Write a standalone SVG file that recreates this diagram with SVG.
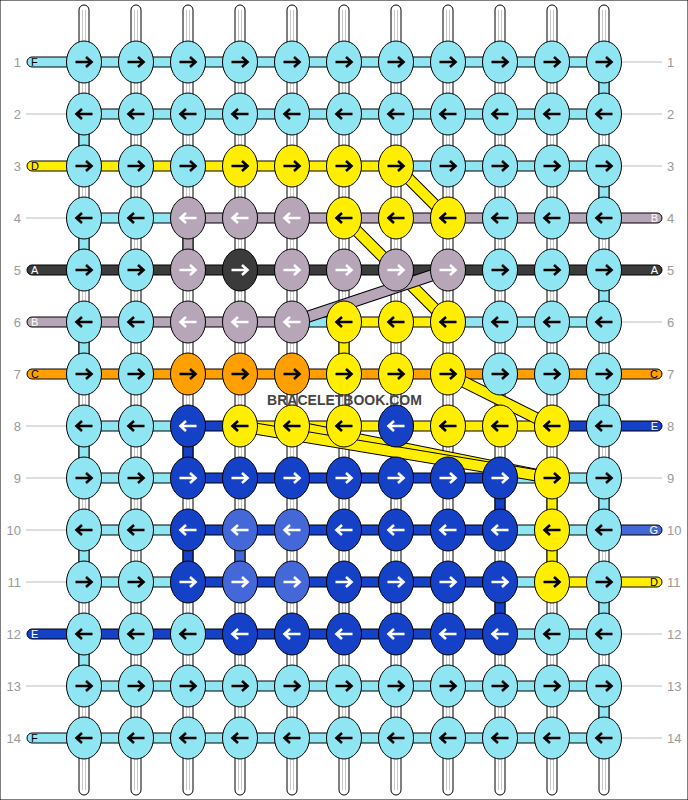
<svg xmlns="http://www.w3.org/2000/svg" xmlns:xlink="http://www.w3.org/1999/xlink" width="688" height="800" viewBox="0 0 688 800">
<style>
.L{fill:#8fe6f2}.Y{fill:#ffee00}.P{fill:#b6a6b8}.K{fill:#3b3b3b}.O{fill:#ffa000}.B{fill:#1541c6}.M{fill:#4468d8}
rect,ellipse{stroke:#000;stroke-width:1}
.ws{fill:#fff}
.gl{stroke:#c8c8c8;stroke-width:1}
.lab{stroke:#bdbdbd;stroke-width:1}
.num{font-family:"Liberation Sans",Arial,sans-serif;font-size:13px;fill:#9a9a9a}
.lt{font-family:"Liberation Sans",Arial,sans-serif;font-size:11px}
.w{stroke:#fff}.b{stroke:#000}
.bo{stroke:#000;stroke-width:12}
.dy{stroke:#ffee00;stroke-width:10}.dp{stroke:#b6a6b8;stroke-width:10}
</style>
<defs>
<path id="ar" d="M-8.5 0H7M2-5L7.5 0L2 5" fill="none" stroke-width="2.6"/>
<path id="al" d="M8.5 0H-7M-2-5L-7.5 0L-2 5" fill="none" stroke-width="2.6"/>
</defs>
<rect width="688" height="800" fill="#fff" stroke="none"/>
<g id="warp">
<rect class="ws" x="79" y="5" width="10" height="790" rx="5"/><rect class="ws" x="131" y="5" width="10" height="790" rx="5"/><rect class="ws" x="183" y="5" width="10" height="790" rx="5"/><rect class="ws" x="235" y="5" width="10" height="790" rx="5"/><rect class="ws" x="287" y="5" width="10" height="790" rx="5"/><rect class="ws" x="339" y="5" width="10" height="790" rx="5"/><rect class="ws" x="391" y="5" width="10" height="790" rx="5"/><rect class="ws" x="443" y="5" width="10" height="790" rx="5"/><rect class="ws" x="495" y="5" width="10" height="790" rx="5"/><rect class="ws" x="547" y="5" width="10" height="790" rx="5"/><rect class="ws" x="599" y="5" width="10" height="790" rx="5"/>
<path class="gl" d="M82.5 10V790M85.5 10V790M134.5 10V790M137.5 10V790M186.5 10V790M189.5 10V790M238.5 10V790M241.5 10V790M290.5 10V790M293.5 10V790M342.5 10V790M345.5 10V790M394.5 10V790M397.5 10V790M446.5 10V790M449.5 10V790M498.5 10V790M501.5 10V790M550.5 10V790M553.5 10V790M602.5 10V790M605.5 10V790"/>
</g>
<g id="connectors">
<path class="lab" d="M26 114H67M26 218H67M26 426H67M26 478H67M26 530H67M26 582H67M26 686H67"/>
<path class="lab" d="M621 62H662M621 114H662M621 166H662M621 322H662M621 478H662M621 634H662M621 686H662M621 738H662"/>
<rect class="L" x="27" y="57" width="70" height="10" rx="5"/>
<rect class="Y" x="27" y="161" width="70" height="10" rx="5"/>
<rect class="K" x="27" y="265" width="70" height="10" rx="5"/>
<rect class="P" x="27" y="317" width="70" height="10" rx="5"/>
<rect class="O" x="27" y="369" width="70" height="10" rx="5"/>
<rect class="B" x="27" y="629" width="70" height="10" rx="5"/>
<rect class="L" x="27" y="733" width="70" height="10" rx="5"/>
<rect class="P" x="594" y="213" width="68" height="10" rx="5"/>
<rect class="K" x="594" y="265" width="68" height="10" rx="5"/>
<rect class="O" x="594" y="369" width="68" height="10" rx="5"/>
<rect class="B" x="594" y="421" width="68" height="10" rx="5"/>
<rect class="M" x="594" y="525" width="68" height="10" rx="5"/>
<rect class="Y" x="594" y="577" width="68" height="10" rx="5"/>
<rect class="L" x="84" y="57" width="520" height="10"/>
<rect class="L" x="84" y="109" width="520" height="10"/>
<rect class="Y" x="84" y="161" width="312" height="10"/><rect class="L" x="396" y="161" width="208" height="10"/>
<rect class="L" x="84" y="213" width="104" height="10"/><rect class="P" x="188" y="213" width="416" height="10"/>
<rect class="K" x="84" y="265" width="520" height="10"/>
<rect class="P" x="84" y="317" width="208" height="10"/><rect class="L" x="292" y="317" width="52" height="10"/><rect class="Y" x="344" y="317" width="104" height="10"/><rect class="L" x="448" y="317" width="156" height="10"/>
<rect class="O" x="84" y="369" width="520" height="10"/>
<rect class="L" x="84" y="421" width="104" height="10"/><rect class="B" x="188" y="421" width="52" height="10"/><rect class="Y" x="240" y="421" width="312" height="10"/><rect class="B" x="552" y="421" width="52" height="10"/>
<rect class="L" x="84" y="473" width="104" height="10"/><rect class="B" x="188" y="473" width="312" height="10"/><rect class="L" x="500" y="473" width="104" height="10"/>
<rect class="L" x="84" y="525" width="104" height="10"/><rect class="B" x="188" y="525" width="312" height="10"/><rect class="L" x="500" y="525" width="104" height="10"/>
<rect class="L" x="84" y="577" width="104" height="10"/><rect class="B" x="188" y="577" width="312" height="10"/><rect class="L" x="500" y="577" width="52" height="10"/><rect class="Y" x="552" y="577" width="52" height="10"/>
<rect class="B" x="84" y="629" width="416" height="10"/><rect class="L" x="500" y="629" width="104" height="10"/>
<rect class="L" x="84" y="681" width="520" height="10"/>
<rect class="L" x="84" y="733" width="520" height="10"/>
<rect class="L" x="599" y="62" width="10" height="52"/>
<rect class="L" x="79" y="114" width="10" height="52"/>
<rect class="L" x="599" y="166" width="10" height="52"/>
<rect class="L" x="79" y="218" width="10" height="52"/><rect class="P" x="183" y="218" width="10" height="52"/>
<rect class="L" x="599" y="270" width="10" height="52"/>
<rect class="L" x="79" y="322" width="10" height="52"/><rect class="Y" x="339" y="322" width="10" height="52"/>
<rect class="L" x="599" y="374" width="10" height="52"/>
<rect class="L" x="79" y="426" width="10" height="52"/><rect class="B" x="183" y="426" width="10" height="52"/>
<rect class="B" x="495" y="478" width="10" height="52"/><rect class="Y" x="547" y="478" width="10" height="52"/><rect class="L" x="599" y="478" width="10" height="52"/>
<rect class="L" x="79" y="530" width="10" height="52"/><rect class="B" x="183" y="530" width="10" height="52"/><rect class="M" x="235" y="530" width="10" height="52"/><rect class="Y" x="547" y="530" width="10" height="52"/>
<rect class="B" x="495" y="582" width="10" height="52"/><rect class="L" x="599" y="582" width="10" height="52"/>
<rect class="L" x="79" y="634" width="10" height="52"/>
<rect class="L" x="599" y="686" width="10" height="52"/>
<path class="bo" d="M396 166L448 218M344 218L396 270M396 270L448 322"/>
<path class="dy" d="M396 166L448 218M344 218L396 270M396 270L448 322"/>
<path class="bo" d="M292 322L448 270"/><path class="dp" d="M292 322L448 270"/>
<path class="bo" d="M448 374L552 426"/><path class="dy" d="M448 374L552 426"/>
<path class="bo" d="M292 426L552 478"/><path class="dy" d="M292 426L552 478"/>
<path class="bo" d="M240 426L552 478"/><path class="dy" d="M240 426L552 478"/>
</g>
<g id="labels">
<text class="lt" x="31" y="66" fill="#000">F</text>
<text class="lt" x="31" y="170" fill="#000">D</text>
<text class="lt" x="31" y="274" fill="#fff">A</text>
<text class="lt" x="31" y="326" fill="#fff">B</text>
<text class="lt" x="31" y="378" fill="#000">C</text>
<text class="lt" x="31" y="638" fill="#fff">E</text>
<text class="lt" x="31" y="742" fill="#000">F</text>
<text class="lt" x="658" y="222" fill="#fff" text-anchor="end">B</text>
<text class="lt" x="658" y="274" fill="#fff" text-anchor="end">A</text>
<text class="lt" x="658" y="378" fill="#000" text-anchor="end">C</text>
<text class="lt" x="658" y="430" fill="#fff" text-anchor="end">E</text>
<text class="lt" x="658" y="534" fill="#fff" text-anchor="end">G</text>
<text class="lt" x="658" y="586" fill="#000" text-anchor="end">D</text>
<g class="num" text-anchor="end">
<text x="21" y="67">1</text><text x="21" y="119">2</text><text x="21" y="171">3</text><text x="21" y="223">4</text><text x="21" y="275">5</text><text x="21" y="327">6</text><text x="21" y="379">7</text><text x="21" y="431">8</text><text x="21" y="483">9</text><text x="21" y="535">10</text><text x="21" y="587">11</text><text x="21" y="639">12</text><text x="21" y="691">13</text><text x="21" y="743">14</text>
</g>
<g class="num">
<text x="667" y="67">1</text><text x="667" y="119">2</text><text x="667" y="171">3</text><text x="667" y="223">4</text><text x="667" y="275">5</text><text x="667" y="327">6</text><text x="667" y="379">7</text><text x="667" y="431">8</text><text x="667" y="483">9</text><text x="667" y="535">10</text><text x="667" y="587">11</text><text x="667" y="639">12</text><text x="667" y="691">13</text><text x="667" y="743">14</text>
</g>
</g>
<g id="knots">
<g id="r1">
<g id="k1-1"><ellipse class="L" cx="84" cy="62" rx="17.5" ry="21"/><use href="#ar" x="84" y="62" class="b"/></g>
<g id="k1-2"><ellipse class="L" cx="136" cy="62" rx="17.5" ry="21"/><use href="#ar" x="136" y="62" class="b"/></g>
<g id="k1-3"><ellipse class="L" cx="188" cy="62" rx="17.5" ry="21"/><use href="#ar" x="188" y="62" class="b"/></g>
<g id="k1-4"><ellipse class="L" cx="240" cy="62" rx="17.5" ry="21"/><use href="#ar" x="240" y="62" class="b"/></g>
<g id="k1-5"><ellipse class="L" cx="292" cy="62" rx="17.5" ry="21"/><use href="#ar" x="292" y="62" class="b"/></g>
<g id="k1-6"><ellipse class="L" cx="344" cy="62" rx="17.5" ry="21"/><use href="#ar" x="344" y="62" class="b"/></g>
<g id="k1-7"><ellipse class="L" cx="396" cy="62" rx="17.5" ry="21"/><use href="#ar" x="396" y="62" class="b"/></g>
<g id="k1-8"><ellipse class="L" cx="448" cy="62" rx="17.5" ry="21"/><use href="#ar" x="448" y="62" class="b"/></g>
<g id="k1-9"><ellipse class="L" cx="500" cy="62" rx="17.5" ry="21"/><use href="#ar" x="500" y="62" class="b"/></g>
<g id="k1-10"><ellipse class="L" cx="552" cy="62" rx="17.5" ry="21"/><use href="#ar" x="552" y="62" class="b"/></g>
<g id="k1-11"><ellipse class="L" cx="604" cy="62" rx="17.5" ry="21"/><use href="#ar" x="604" y="62" class="b"/></g>
</g>
<g id="r2">
<g id="k2-1"><ellipse class="L" cx="84" cy="114" rx="17.5" ry="21"/><use href="#al" x="84" y="114" class="b"/></g>
<g id="k2-2"><ellipse class="L" cx="136" cy="114" rx="17.5" ry="21"/><use href="#al" x="136" y="114" class="b"/></g>
<g id="k2-3"><ellipse class="L" cx="188" cy="114" rx="17.5" ry="21"/><use href="#al" x="188" y="114" class="b"/></g>
<g id="k2-4"><ellipse class="L" cx="240" cy="114" rx="17.5" ry="21"/><use href="#al" x="240" y="114" class="b"/></g>
<g id="k2-5"><ellipse class="L" cx="292" cy="114" rx="17.5" ry="21"/><use href="#al" x="292" y="114" class="b"/></g>
<g id="k2-6"><ellipse class="L" cx="344" cy="114" rx="17.5" ry="21"/><use href="#al" x="344" y="114" class="b"/></g>
<g id="k2-7"><ellipse class="L" cx="396" cy="114" rx="17.5" ry="21"/><use href="#al" x="396" y="114" class="b"/></g>
<g id="k2-8"><ellipse class="L" cx="448" cy="114" rx="17.5" ry="21"/><use href="#al" x="448" y="114" class="b"/></g>
<g id="k2-9"><ellipse class="L" cx="500" cy="114" rx="17.5" ry="21"/><use href="#al" x="500" y="114" class="b"/></g>
<g id="k2-10"><ellipse class="L" cx="552" cy="114" rx="17.5" ry="21"/><use href="#al" x="552" y="114" class="b"/></g>
<g id="k2-11"><ellipse class="L" cx="604" cy="114" rx="17.5" ry="21"/><use href="#al" x="604" y="114" class="b"/></g>
</g>
<g id="r3">
<g id="k3-1"><ellipse class="L" cx="84" cy="166" rx="17.5" ry="21"/><use href="#ar" x="84" y="166" class="b"/></g>
<g id="k3-2"><ellipse class="L" cx="136" cy="166" rx="17.5" ry="21"/><use href="#ar" x="136" y="166" class="b"/></g>
<g id="k3-3"><ellipse class="L" cx="188" cy="166" rx="17.5" ry="21"/><use href="#ar" x="188" y="166" class="b"/></g>
<g id="k3-4"><ellipse class="Y" cx="240" cy="166" rx="17.5" ry="21"/><use href="#ar" x="240" y="166" class="b"/></g>
<g id="k3-5"><ellipse class="Y" cx="292" cy="166" rx="17.5" ry="21"/><use href="#ar" x="292" y="166" class="b"/></g>
<g id="k3-6"><ellipse class="Y" cx="344" cy="166" rx="17.5" ry="21"/><use href="#ar" x="344" y="166" class="b"/></g>
<g id="k3-7"><ellipse class="Y" cx="396" cy="166" rx="17.5" ry="21"/><use href="#ar" x="396" y="166" class="b"/></g>
<g id="k3-8"><ellipse class="L" cx="448" cy="166" rx="17.5" ry="21"/><use href="#ar" x="448" y="166" class="b"/></g>
<g id="k3-9"><ellipse class="L" cx="500" cy="166" rx="17.5" ry="21"/><use href="#ar" x="500" y="166" class="b"/></g>
<g id="k3-10"><ellipse class="L" cx="552" cy="166" rx="17.5" ry="21"/><use href="#ar" x="552" y="166" class="b"/></g>
<g id="k3-11"><ellipse class="L" cx="604" cy="166" rx="17.5" ry="21"/><use href="#ar" x="604" y="166" class="b"/></g>
</g>
<g id="r4">
<g id="k4-1"><ellipse class="L" cx="84" cy="218" rx="17.5" ry="21"/><use href="#al" x="84" y="218" class="b"/></g>
<g id="k4-2"><ellipse class="L" cx="136" cy="218" rx="17.5" ry="21"/><use href="#al" x="136" y="218" class="b"/></g>
<g id="k4-3"><ellipse class="P" cx="188" cy="218" rx="17.5" ry="21"/><use href="#al" x="188" y="218" class="w"/></g>
<g id="k4-4"><ellipse class="P" cx="240" cy="218" rx="17.5" ry="21"/><use href="#al" x="240" y="218" class="w"/></g>
<g id="k4-5"><ellipse class="P" cx="292" cy="218" rx="17.5" ry="21"/><use href="#al" x="292" y="218" class="w"/></g>
<g id="k4-6"><ellipse class="Y" cx="344" cy="218" rx="17.5" ry="21"/><use href="#al" x="344" y="218" class="b"/></g>
<g id="k4-7"><ellipse class="Y" cx="396" cy="218" rx="17.5" ry="21"/><use href="#al" x="396" y="218" class="b"/></g>
<g id="k4-8"><ellipse class="Y" cx="448" cy="218" rx="17.5" ry="21"/><use href="#al" x="448" y="218" class="b"/></g>
<g id="k4-9"><ellipse class="L" cx="500" cy="218" rx="17.5" ry="21"/><use href="#al" x="500" y="218" class="b"/></g>
<g id="k4-10"><ellipse class="L" cx="552" cy="218" rx="17.5" ry="21"/><use href="#al" x="552" y="218" class="b"/></g>
<g id="k4-11"><ellipse class="L" cx="604" cy="218" rx="17.5" ry="21"/><use href="#al" x="604" y="218" class="b"/></g>
</g>
<g id="r5">
<g id="k5-1"><ellipse class="L" cx="84" cy="270" rx="17.5" ry="21"/><use href="#ar" x="84" y="270" class="b"/></g>
<g id="k5-2"><ellipse class="L" cx="136" cy="270" rx="17.5" ry="21"/><use href="#ar" x="136" y="270" class="b"/></g>
<g id="k5-3"><ellipse class="P" cx="188" cy="270" rx="17.5" ry="21"/><use href="#ar" x="188" y="270" class="w"/></g>
<g id="k5-4"><ellipse class="K" cx="240" cy="270" rx="17.5" ry="21"/><use href="#ar" x="240" y="270" class="w"/></g>
<g id="k5-5"><ellipse class="P" cx="292" cy="270" rx="17.5" ry="21"/><use href="#ar" x="292" y="270" class="w"/></g>
<g id="k5-6"><ellipse class="P" cx="344" cy="270" rx="17.5" ry="21"/><use href="#ar" x="344" y="270" class="w"/></g>
<g id="k5-7"><ellipse class="P" cx="396" cy="270" rx="17.5" ry="21"/><use href="#ar" x="396" y="270" class="w"/></g>
<g id="k5-8"><ellipse class="P" cx="448" cy="270" rx="17.5" ry="21"/><use href="#ar" x="448" y="270" class="w"/></g>
<g id="k5-9"><ellipse class="L" cx="500" cy="270" rx="17.5" ry="21"/><use href="#ar" x="500" y="270" class="b"/></g>
<g id="k5-10"><ellipse class="L" cx="552" cy="270" rx="17.5" ry="21"/><use href="#ar" x="552" y="270" class="b"/></g>
<g id="k5-11"><ellipse class="L" cx="604" cy="270" rx="17.5" ry="21"/><use href="#ar" x="604" y="270" class="b"/></g>
</g>
<g id="r6">
<g id="k6-1"><ellipse class="L" cx="84" cy="322" rx="17.5" ry="21"/><use href="#al" x="84" y="322" class="b"/></g>
<g id="k6-2"><ellipse class="L" cx="136" cy="322" rx="17.5" ry="21"/><use href="#al" x="136" y="322" class="b"/></g>
<g id="k6-3"><ellipse class="P" cx="188" cy="322" rx="17.5" ry="21"/><use href="#al" x="188" y="322" class="w"/></g>
<g id="k6-4"><ellipse class="P" cx="240" cy="322" rx="17.5" ry="21"/><use href="#al" x="240" y="322" class="w"/></g>
<g id="k6-5"><ellipse class="P" cx="292" cy="322" rx="17.5" ry="21"/><use href="#al" x="292" y="322" class="w"/></g>
<g id="k6-6"><ellipse class="Y" cx="344" cy="322" rx="17.5" ry="21"/><use href="#al" x="344" y="322" class="b"/></g>
<g id="k6-7"><ellipse class="Y" cx="396" cy="322" rx="17.5" ry="21"/><use href="#al" x="396" y="322" class="b"/></g>
<g id="k6-8"><ellipse class="Y" cx="448" cy="322" rx="17.5" ry="21"/><use href="#al" x="448" y="322" class="b"/></g>
<g id="k6-9"><ellipse class="L" cx="500" cy="322" rx="17.5" ry="21"/><use href="#al" x="500" y="322" class="b"/></g>
<g id="k6-10"><ellipse class="L" cx="552" cy="322" rx="17.5" ry="21"/><use href="#al" x="552" y="322" class="b"/></g>
<g id="k6-11"><ellipse class="L" cx="604" cy="322" rx="17.5" ry="21"/><use href="#al" x="604" y="322" class="b"/></g>
</g>
<g id="r7">
<g id="k7-1"><ellipse class="L" cx="84" cy="374" rx="17.5" ry="21"/><use href="#ar" x="84" y="374" class="b"/></g>
<g id="k7-2"><ellipse class="L" cx="136" cy="374" rx="17.5" ry="21"/><use href="#ar" x="136" y="374" class="b"/></g>
<g id="k7-3"><ellipse class="O" cx="188" cy="374" rx="17.5" ry="21"/><use href="#ar" x="188" y="374" class="b"/></g>
<g id="k7-4"><ellipse class="O" cx="240" cy="374" rx="17.5" ry="21"/><use href="#ar" x="240" y="374" class="b"/></g>
<g id="k7-5"><ellipse class="O" cx="292" cy="374" rx="17.5" ry="21"/><use href="#ar" x="292" y="374" class="b"/></g>
<g id="k7-6"><ellipse class="Y" cx="344" cy="374" rx="17.5" ry="21"/><use href="#ar" x="344" y="374" class="b"/></g>
<g id="k7-7"><ellipse class="Y" cx="396" cy="374" rx="17.5" ry="21"/><use href="#ar" x="396" y="374" class="b"/></g>
<g id="k7-8"><ellipse class="Y" cx="448" cy="374" rx="17.5" ry="21"/><use href="#ar" x="448" y="374" class="b"/></g>
<g id="k7-9"><ellipse class="L" cx="500" cy="374" rx="17.5" ry="21"/><use href="#ar" x="500" y="374" class="b"/></g>
<g id="k7-10"><ellipse class="L" cx="552" cy="374" rx="17.5" ry="21"/><use href="#ar" x="552" y="374" class="b"/></g>
<g id="k7-11"><ellipse class="L" cx="604" cy="374" rx="17.5" ry="21"/><use href="#ar" x="604" y="374" class="b"/></g>
</g>
<g id="r8">
<g id="k8-1"><ellipse class="L" cx="84" cy="426" rx="17.5" ry="21"/><use href="#al" x="84" y="426" class="b"/></g>
<g id="k8-2"><ellipse class="L" cx="136" cy="426" rx="17.5" ry="21"/><use href="#al" x="136" y="426" class="b"/></g>
<g id="k8-3"><ellipse class="B" cx="188" cy="426" rx="17.5" ry="21"/><use href="#al" x="188" y="426" class="w"/></g>
<g id="k8-4"><ellipse class="Y" cx="240" cy="426" rx="17.5" ry="21"/><use href="#al" x="240" y="426" class="b"/></g>
<g id="k8-5"><ellipse class="Y" cx="292" cy="426" rx="17.5" ry="21"/><use href="#al" x="292" y="426" class="b"/></g>
<g id="k8-6"><ellipse class="Y" cx="344" cy="426" rx="17.5" ry="21"/><use href="#al" x="344" y="426" class="b"/></g>
<g id="k8-7"><ellipse class="B" cx="396" cy="426" rx="17.5" ry="21"/><use href="#al" x="396" y="426" class="w"/></g>
<g id="k8-8"><ellipse class="Y" cx="448" cy="426" rx="17.5" ry="21"/><use href="#al" x="448" y="426" class="b"/></g>
<g id="k8-9"><ellipse class="Y" cx="500" cy="426" rx="17.5" ry="21"/><use href="#al" x="500" y="426" class="b"/></g>
<g id="k8-10"><ellipse class="Y" cx="552" cy="426" rx="17.5" ry="21"/><use href="#al" x="552" y="426" class="b"/></g>
<g id="k8-11"><ellipse class="L" cx="604" cy="426" rx="17.5" ry="21"/><use href="#al" x="604" y="426" class="b"/></g>
</g>
<g id="r9">
<g id="k9-1"><ellipse class="L" cx="84" cy="478" rx="17.5" ry="21"/><use href="#ar" x="84" y="478" class="b"/></g>
<g id="k9-2"><ellipse class="L" cx="136" cy="478" rx="17.5" ry="21"/><use href="#ar" x="136" y="478" class="b"/></g>
<g id="k9-3"><ellipse class="B" cx="188" cy="478" rx="17.5" ry="21"/><use href="#ar" x="188" y="478" class="w"/></g>
<g id="k9-4"><ellipse class="B" cx="240" cy="478" rx="17.5" ry="21"/><use href="#ar" x="240" y="478" class="w"/></g>
<g id="k9-5"><ellipse class="B" cx="292" cy="478" rx="17.5" ry="21"/><use href="#ar" x="292" y="478" class="w"/></g>
<g id="k9-6"><ellipse class="B" cx="344" cy="478" rx="17.5" ry="21"/><use href="#ar" x="344" y="478" class="w"/></g>
<g id="k9-7"><ellipse class="B" cx="396" cy="478" rx="17.5" ry="21"/><use href="#ar" x="396" y="478" class="w"/></g>
<g id="k9-8"><ellipse class="B" cx="448" cy="478" rx="17.5" ry="21"/><use href="#ar" x="448" y="478" class="w"/></g>
<g id="k9-9"><ellipse class="B" cx="500" cy="478" rx="17.5" ry="21"/><use href="#ar" x="500" y="478" class="w"/></g>
<g id="k9-10"><ellipse class="Y" cx="552" cy="478" rx="17.5" ry="21"/><use href="#ar" x="552" y="478" class="b"/></g>
<g id="k9-11"><ellipse class="L" cx="604" cy="478" rx="17.5" ry="21"/><use href="#ar" x="604" y="478" class="b"/></g>
</g>
<g id="r10">
<g id="k10-1"><ellipse class="L" cx="84" cy="530" rx="17.5" ry="21"/><use href="#al" x="84" y="530" class="b"/></g>
<g id="k10-2"><ellipse class="L" cx="136" cy="530" rx="17.5" ry="21"/><use href="#al" x="136" y="530" class="b"/></g>
<g id="k10-3"><ellipse class="B" cx="188" cy="530" rx="17.5" ry="21"/><use href="#al" x="188" y="530" class="w"/></g>
<g id="k10-4"><ellipse class="M" cx="240" cy="530" rx="17.5" ry="21"/><use href="#al" x="240" y="530" class="w"/></g>
<g id="k10-5"><ellipse class="M" cx="292" cy="530" rx="17.5" ry="21"/><use href="#al" x="292" y="530" class="w"/></g>
<g id="k10-6"><ellipse class="B" cx="344" cy="530" rx="17.5" ry="21"/><use href="#al" x="344" y="530" class="w"/></g>
<g id="k10-7"><ellipse class="B" cx="396" cy="530" rx="17.5" ry="21"/><use href="#al" x="396" y="530" class="w"/></g>
<g id="k10-8"><ellipse class="B" cx="448" cy="530" rx="17.5" ry="21"/><use href="#al" x="448" y="530" class="w"/></g>
<g id="k10-9"><ellipse class="B" cx="500" cy="530" rx="17.5" ry="21"/><use href="#al" x="500" y="530" class="w"/></g>
<g id="k10-10"><ellipse class="Y" cx="552" cy="530" rx="17.5" ry="21"/><use href="#al" x="552" y="530" class="b"/></g>
<g id="k10-11"><ellipse class="L" cx="604" cy="530" rx="17.5" ry="21"/><use href="#al" x="604" y="530" class="b"/></g>
</g>
<g id="r11">
<g id="k11-1"><ellipse class="L" cx="84" cy="582" rx="17.5" ry="21"/><use href="#ar" x="84" y="582" class="b"/></g>
<g id="k11-2"><ellipse class="L" cx="136" cy="582" rx="17.5" ry="21"/><use href="#ar" x="136" y="582" class="b"/></g>
<g id="k11-3"><ellipse class="B" cx="188" cy="582" rx="17.5" ry="21"/><use href="#ar" x="188" y="582" class="w"/></g>
<g id="k11-4"><ellipse class="M" cx="240" cy="582" rx="17.5" ry="21"/><use href="#ar" x="240" y="582" class="w"/></g>
<g id="k11-5"><ellipse class="M" cx="292" cy="582" rx="17.5" ry="21"/><use href="#ar" x="292" y="582" class="w"/></g>
<g id="k11-6"><ellipse class="B" cx="344" cy="582" rx="17.5" ry="21"/><use href="#ar" x="344" y="582" class="w"/></g>
<g id="k11-7"><ellipse class="B" cx="396" cy="582" rx="17.5" ry="21"/><use href="#ar" x="396" y="582" class="w"/></g>
<g id="k11-8"><ellipse class="B" cx="448" cy="582" rx="17.5" ry="21"/><use href="#ar" x="448" y="582" class="w"/></g>
<g id="k11-9"><ellipse class="B" cx="500" cy="582" rx="17.5" ry="21"/><use href="#ar" x="500" y="582" class="w"/></g>
<g id="k11-10"><ellipse class="Y" cx="552" cy="582" rx="17.5" ry="21"/><use href="#ar" x="552" y="582" class="b"/></g>
<g id="k11-11"><ellipse class="L" cx="604" cy="582" rx="17.5" ry="21"/><use href="#ar" x="604" y="582" class="b"/></g>
</g>
<g id="r12">
<g id="k12-1"><ellipse class="L" cx="84" cy="634" rx="17.5" ry="21"/><use href="#al" x="84" y="634" class="b"/></g>
<g id="k12-2"><ellipse class="L" cx="136" cy="634" rx="17.5" ry="21"/><use href="#al" x="136" y="634" class="b"/></g>
<g id="k12-3"><ellipse class="L" cx="188" cy="634" rx="17.5" ry="21"/><use href="#al" x="188" y="634" class="b"/></g>
<g id="k12-4"><ellipse class="B" cx="240" cy="634" rx="17.5" ry="21"/><use href="#al" x="240" y="634" class="w"/></g>
<g id="k12-5"><ellipse class="B" cx="292" cy="634" rx="17.5" ry="21"/><use href="#al" x="292" y="634" class="w"/></g>
<g id="k12-6"><ellipse class="B" cx="344" cy="634" rx="17.5" ry="21"/><use href="#al" x="344" y="634" class="w"/></g>
<g id="k12-7"><ellipse class="B" cx="396" cy="634" rx="17.5" ry="21"/><use href="#al" x="396" y="634" class="w"/></g>
<g id="k12-8"><ellipse class="B" cx="448" cy="634" rx="17.5" ry="21"/><use href="#al" x="448" y="634" class="w"/></g>
<g id="k12-9"><ellipse class="B" cx="500" cy="634" rx="17.5" ry="21"/><use href="#al" x="500" y="634" class="w"/></g>
<g id="k12-10"><ellipse class="L" cx="552" cy="634" rx="17.5" ry="21"/><use href="#al" x="552" y="634" class="b"/></g>
<g id="k12-11"><ellipse class="L" cx="604" cy="634" rx="17.5" ry="21"/><use href="#al" x="604" y="634" class="b"/></g>
</g>
<g id="r13">
<g id="k13-1"><ellipse class="L" cx="84" cy="686" rx="17.5" ry="21"/><use href="#ar" x="84" y="686" class="b"/></g>
<g id="k13-2"><ellipse class="L" cx="136" cy="686" rx="17.5" ry="21"/><use href="#ar" x="136" y="686" class="b"/></g>
<g id="k13-3"><ellipse class="L" cx="188" cy="686" rx="17.5" ry="21"/><use href="#ar" x="188" y="686" class="b"/></g>
<g id="k13-4"><ellipse class="L" cx="240" cy="686" rx="17.5" ry="21"/><use href="#ar" x="240" y="686" class="b"/></g>
<g id="k13-5"><ellipse class="L" cx="292" cy="686" rx="17.5" ry="21"/><use href="#ar" x="292" y="686" class="b"/></g>
<g id="k13-6"><ellipse class="L" cx="344" cy="686" rx="17.5" ry="21"/><use href="#ar" x="344" y="686" class="b"/></g>
<g id="k13-7"><ellipse class="L" cx="396" cy="686" rx="17.5" ry="21"/><use href="#ar" x="396" y="686" class="b"/></g>
<g id="k13-8"><ellipse class="L" cx="448" cy="686" rx="17.5" ry="21"/><use href="#ar" x="448" y="686" class="b"/></g>
<g id="k13-9"><ellipse class="L" cx="500" cy="686" rx="17.5" ry="21"/><use href="#ar" x="500" y="686" class="b"/></g>
<g id="k13-10"><ellipse class="L" cx="552" cy="686" rx="17.5" ry="21"/><use href="#ar" x="552" y="686" class="b"/></g>
<g id="k13-11"><ellipse class="L" cx="604" cy="686" rx="17.5" ry="21"/><use href="#ar" x="604" y="686" class="b"/></g>
</g>
<g id="r14">
<g id="k14-1"><ellipse class="L" cx="84" cy="738" rx="17.5" ry="21"/><use href="#al" x="84" y="738" class="b"/></g>
<g id="k14-2"><ellipse class="L" cx="136" cy="738" rx="17.5" ry="21"/><use href="#al" x="136" y="738" class="b"/></g>
<g id="k14-3"><ellipse class="L" cx="188" cy="738" rx="17.5" ry="21"/><use href="#al" x="188" y="738" class="b"/></g>
<g id="k14-4"><ellipse class="L" cx="240" cy="738" rx="17.5" ry="21"/><use href="#al" x="240" y="738" class="b"/></g>
<g id="k14-5"><ellipse class="L" cx="292" cy="738" rx="17.5" ry="21"/><use href="#al" x="292" y="738" class="b"/></g>
<g id="k14-6"><ellipse class="L" cx="344" cy="738" rx="17.5" ry="21"/><use href="#al" x="344" y="738" class="b"/></g>
<g id="k14-7"><ellipse class="L" cx="396" cy="738" rx="17.5" ry="21"/><use href="#al" x="396" y="738" class="b"/></g>
<g id="k14-8"><ellipse class="L" cx="448" cy="738" rx="17.5" ry="21"/><use href="#al" x="448" y="738" class="b"/></g>
<g id="k14-9"><ellipse class="L" cx="500" cy="738" rx="17.5" ry="21"/><use href="#al" x="500" y="738" class="b"/></g>
<g id="k14-10"><ellipse class="L" cx="552" cy="738" rx="17.5" ry="21"/><use href="#al" x="552" y="738" class="b"/></g>
<g id="k14-11"><ellipse class="L" cx="604" cy="738" rx="17.5" ry="21"/><use href="#al" x="604" y="738" class="b"/></g>
</g>
</g>
<text x="344.5" y="405" text-anchor="middle" font-family="'Liberation Sans',Arial,sans-serif" font-size="14" font-weight="bold" fill="#444">BRACELETBOOK.COM</text>
</svg>
